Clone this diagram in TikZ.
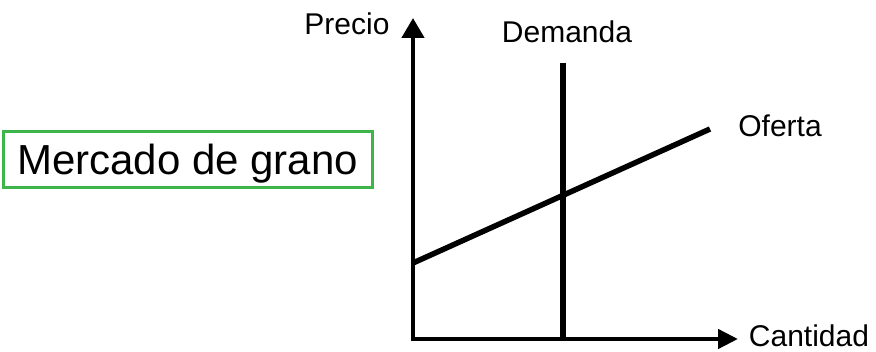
\documentclass[tikz,border=0pt]{standalone}
\usepackage{fontspec}
\setmainfont{Liberation Sans}
\usepackage{xcolor}
\usepackage{tikz}
\usetikzlibrary{arrows.meta}
\definecolor{boxline}{HTML}{3DB54A}
\tikzset{
  mktaxis/.style={{Triangle[length=20pt,width=22pt]}-{Triangle[length=20pt,width=19pt]}, line width=4.5pt, draw=black},
  mktcurve/.style={line width=5.5pt, draw=black},
  mktlabel/.style={font=\fontsize{30}{36}\selectfont, inner sep=0pt, anchor=base},
  mktbox/.style={draw=boxline, line width=3pt, font=\fontsize{42}{50}\selectfont, text height=30pt, text depth=0pt, minimum width=369pt, minimum height=56pt, inner sep=0pt}
}
\begin{document}
\begin{tikzpicture}[x=1pt,y=1pt]

  \useasboundingbox (0,0) rectangle (876,352);

  % title box
  \node[mktbox] (market) at (187.5,192) {Mercado de grano};

  % axes
  \coordinate (origin) at (413,13);
  \coordinate (ytop)   at (413,334);
  \coordinate (xend)   at (738,13);
  \draw[mktaxis] (ytop) -- (origin) -- (xend);

  \node[mktlabel] (precio)   at (347,317) {Precio};
  \node[mktlabel] (cantidad) at (809,5)   {Cantidad};

  % demand and supply
  \coordinate (dtop) at (563,289);
  \coordinate (dbot) at (563,13);
  \draw[mktcurve] (dtop) -- (dbot);
  \node[mktlabel] (demanda) at (567,309) {Demanda};

  \coordinate (slo) at (413,89);
  \coordinate (shi) at (710,223);
  \draw[mktcurve] (slo) -- (shi);
  \node[mktlabel] (oferta) at (780,215) {Oferta};

\end{tikzpicture}
\end{document}
